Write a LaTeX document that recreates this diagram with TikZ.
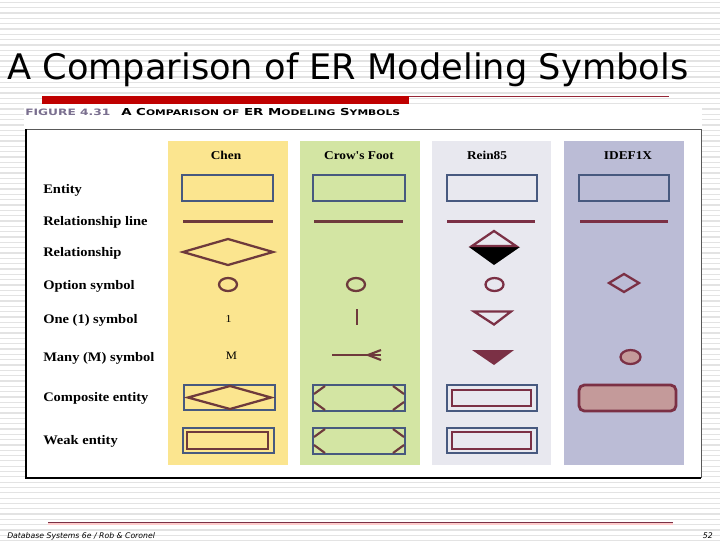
\documentclass[tikz,border=0pt]{standalone}
\usepackage{fontspec}
\setmainfont{Liberation Serif}
\newfontfamily\titlefont{DejaVu Sans}
\newfontfamily\capfont[FakeStretch=1.39]{DejaVu Sans}
\newfontfamily\labfont[FakeStretch=1.11]{Liberation Serif}
\definecolor{edgeblue}{HTML}{47597F}
\definecolor{brownred}{HTML}{6E3A3C}
\definecolor{wine}{HTML}{7B3045}
\definecolor{stripe}{HTML}{E3E3E3}
\definecolor{chenbg}{HTML}{FBE58F}
\definecolor{crowbg}{HTML}{D3E5A3}
\definecolor{reinbg}{HTML}{E8E8EF}
\definecolor{idefbg}{HTML}{BBBCD6}
\definecolor{rosefill}{HTML}{C49A9A}
\definecolor{fignum}{HTML}{7A6F8F}
\tikzset{
  x=0.75pt,y=-0.75pt,
  rowlabel/.style={anchor=west,inner sep=0pt,font=\labfont\bfseries\fontsize{9.8}{11}\selectfont},
  colhead/.style={anchor=center,inner sep=0pt,font=\labfont\bfseries\fontsize{9}{10}\selectfont},
  colband/.style={inner sep=0pt,outer sep=0pt},
  ent/.style={draw=edgeblue,line width=2pt},
  innerbox/.style={draw=wine,line width=1.8pt},
  relline/.style={draw=brownred,line width=1.6pt},
  sym/.style={draw=brownred,line width=1.7pt},
  notch/.style={draw=brownred,line width=1.6pt},
}
\newcommand{\crowbox}[2]{%
  \draw[ent] (313,#1) rectangle (405,#2);
  \draw[notch] (314,#1+9) -- (325,#1+1);
  \draw[notch] (314,#2-9) -- (325,#2-1);
  \draw[notch] (404,#1+9) -- (393,#1+1);
  \draw[notch] (404,#2-9) -- (393,#2-1);
}
\begin{document}
\begin{tikzpicture}
\useasboundingbox (0,0) rectangle (720,540);
\fill[white] (0,0) rectangle (720,540);
\foreach \k in {0,...,101} {\fill[stripe] (0,1.8+\k*5.33) rectangle (720,3.1+\k*5.33);}
% title
\node[anchor=base west,inner sep=0pt,font=\titlefont\fontsize{26.4}{30}\selectfont] (title) at (7,79) {A Comparison of ER Modeling Symbols};
% top rules
\fill[white] (24,104) rectangle (702,129);
\fill[red!75!black] (42,96) rectangle (409,104);
\draw[wine!80!red,line width=0.8pt] (409,96.5) -- (669,96.5);
% frame
\fill[white] (26,129) rectangle (701,478);
\draw[black!65,line width=0.7pt] (26,129) -- (701,129) -- (701,478);
\draw[black,line width=0.9pt] (26,129) -- (26,478) -- (701,478);
\node[anchor=base west,inner sep=0pt,font=\capfont\bfseries\fontsize{6.6}{8}\selectfont,text=fignum] (figno) at (25,115) {FIGURE 4.31};
\node[anchor=base west,inner sep=0pt,font=\capfont\bfseries\fontsize{7.2}{8}\selectfont] (figcap) at (121,115)
  {A C{\fontsize{5.8}{8}\selectfont OMPARISON OF} ER M{\fontsize{5.8}{8}\selectfont ODELING} S{\fontsize{5.8}{8}\selectfont YMBOLS}};
% column bands
\node[colband,fill=chenbg,minimum width=90pt,minimum height=243pt] (bandA) at (228,303) {};
\node[colband,fill=crowbg,minimum width=90pt,minimum height=243pt] (bandB) at (360,303) {};
\node[colband,fill=reinbg,minimum width=89.5pt,minimum height=243pt] (bandC) at (491.5,303) {};
\node[colband,fill=idefbg,minimum width=90pt,minimum height=243pt] (bandD) at (624,303) {};
% column headings
\node[colhead] (hA) at (226,155.5) {Chen};
\node[colhead] (hB) at (359,155.5) {Crow's Foot};
\node[colhead] (hC) at (487,155) {Rein85};
\node[colhead] (hD) at (628,156) {IDEF1X};
% row labels
\node[rowlabel] (r1) at (43,190.5) {Entity};
\node[rowlabel] (r2) at (43,222.5) {Relationship line};
\node[rowlabel] (r3) at (43,253.5) {Relationship};
\node[rowlabel] (r4) at (43,286.5) {Option symbol};
\node[rowlabel] (r5) at (43,320.5) {One (1) symbol};
\node[rowlabel] (r6) at (43,358.5) {Many (M) symbol};
\node[rowlabel] (r7) at (43,398.5) {Composite entity};
\node[rowlabel] (r8) at (43,441.5) {Weak entity};
% entity
\draw[ent] (182,175) rectangle (273,201);
\draw[ent] (313,175) rectangle (405,201);
\draw[ent] (447,175) rectangle (537,201);
\draw[ent] (579,175) rectangle (669,201);
% relationship line
\draw[relline] (183,221.5) -- (273,221.5);
\draw[relline] (314,221.5) -- (403,221.5);
\draw[relline,draw=wine] (447,221.5) -- (535,221.5);
\draw[relline,draw=wine] (580,221.5) -- (668,221.5);
% relationship
\draw[sym] (183,252) -- (228,239) -- (273,252) -- (228,265) -- cycle;
\fill[black] (469,247) -- (520,247) -- (494,265) -- cycle;
\draw[sym,draw=wine] (472,246) -- (494,231) -- (516,246) -- cycle;
% option
\draw[sym] (228,284.5) ellipse (9 and 6.5);
\draw[sym] (356,284.5) ellipse (9 and 6.5);
\draw[sym,draw=wine] (494.5,284.5) ellipse (9 and 6.5);
\draw[sym,draw=wine] (609,283) -- (624,274) -- (639,283) -- (624,292) -- cycle;
% one
\node[inner sep=0pt,font=\labfont\fontsize{8}{9}\selectfont] (oneA) at (228.5,319) {1};
\draw[brownred,line width=2.2pt] (357,309) -- (357,325);
\draw[sym,draw=wine] (474,311.5) -- (511,311.5) -- (494,324.5) -- cycle;
% many
\node[inner sep=0pt,font=\labfont\fontsize{8.5}{9}\selectfont] (mA) at (231.5,356) {M};
\draw[relline] (332,355) -- (368,355);
\draw[relline] (381,350) -- (368,355) -- (381,360);
\draw[relline] (368,355) -- (381,355);
\fill[wine] (472,350) -- (514,350) -- (494,365) -- cycle;
\draw[sym,draw=wine,fill=rosefill] (630.5,357) ellipse (10 and 7);
% composite
\draw[ent] (184,385) rectangle (275,410);
\draw[sym] (188,397.5) -- (230,386) -- (271,397.5) -- (230,409) -- cycle;
\crowbox{385}{411}
\draw[ent] (447,385) rectangle (537,411);
\draw[innerbox] (452,390) rectangle (531,406);
\draw[draw=wine,line width=2.1pt,fill=rosefill,rounded corners=4pt] (579,385) rectangle (676,411);
% weak
\draw[ent] (183,428) rectangle (274,453);
\draw[sym,line width=2.1pt] (187,432) rectangle (268,449);
\crowbox{428}{454}
\draw[ent] (447,428) rectangle (537,453);
\draw[innerbox] (452,432) rectangle (531,449);
% bottom rule
\fill[red!20!white] (48,523) rectangle (673,525);
\draw[wine,line width=0.7pt] (48,522) -- (673,522);
% footer
\node[anchor=base west,inner sep=0pt,font=\titlefont\itshape\fontsize{5.8}{7}\selectfont] (foot) at (7,538.5) {Database Systems 6e / Rob \& Coronel};
\node[anchor=base east,inner sep=0pt,font=\titlefont\itshape\fontsize{5.8}{7}\selectfont] (page) at (713,538.5) {52};
\end{tikzpicture}
\end{document}
